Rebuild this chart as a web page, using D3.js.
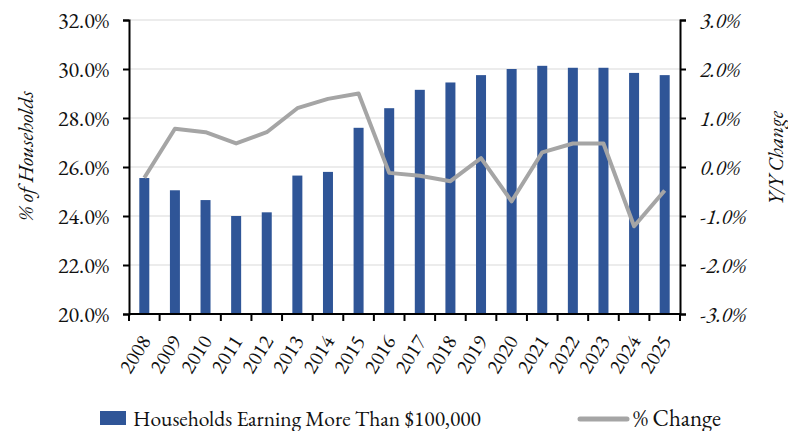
<!DOCTYPE html>
<html lang="en">
<head>
  <meta charset="UTF-8">
  <script src="https://cdn.jsdelivr.net/npm/d3@7"></script>
  <title>Households</title>
  <style>
    body { margin: 0; background: #fff; }
  </style>
</head>
<body>
  <svg></svg>
<script>
const width = 788;
const height = 431;
const margin = { top: 20, right: 108, bottom: 117, left: 129 };
const innerWidth = width - margin.left - margin.right;
const innerHeight = height - margin.top - margin.bottom;
const FONT = '"EB Garamond"';

const years = ['2008', '2009', '2010', '2011', '2012', '2013', '2014', '2015', '2016',
  '2017', '2018', '2019', '2020', '2021', '2022', '2023', '2024', '2025'];
const shareHouseholds = [25.55, 25.05, 24.65, 24.0, 24.15, 25.65, 25.8, 27.6, 28.4,
  29.15, 29.45, 29.75, 30.0, 30.13, 30.05, 30.05, 29.84, 29.75];
const yoyChange = [-0.22, 0.78, 0.71, 0.48, 0.71, 1.2, 1.39, 1.5, -0.12,
  -0.18, -0.29, 0.18, -0.7, 0.3, 0.48, 0.48, -1.21, -0.48];
const leftTicks = [20, 22, 24, 26, 28, 30, 32];
const rightTicks = [-3, -2, -1, 0, 1, 2, 3];

const barColor = '#2F5597';
const lineColor = '#A5A5A5';

const svg = d3.select('svg').attr('width', width).attr('height', height);
const root = svg.append('g').attr('transform', `translate(${margin.left}, ${margin.top})`);

const xScale = d3.scaleBand().domain(years).range([0, innerWidth]);
const yLeft = d3.scaleLinear().domain([20, 32]).range([innerHeight, 0]);
const yRight = d3.scaleLinear().domain([-3, 3]).range([innerHeight, 0]);

// gridlines
root.append('g')
  .selectAll('line')
  .data(leftTicks.slice(1))
  .enter()
  .append('line')
  .attr('x1', 0)
  .attr('x2', innerWidth)
  .attr('y1', d => yLeft(d))
  .attr('y2', d => yLeft(d))
  .attr('stroke', '#d9d9d9')
  .attr('stroke-width', 1.2);

// bars
const barW = 10;
root.append('g')
  .selectAll('rect')
  .data(years)
  .enter()
  .append('rect')
  .attr('x', d => xScale(d) + xScale.bandwidth() / 2 - barW / 2)
  .attr('y', (d, i) => yLeft(shareHouseholds[i]))
  .attr('width', barW)
  .attr('height', (d, i) => innerHeight - yLeft(shareHouseholds[i]))
  .attr('fill', barColor);

// line
const line = d3.line()
  .x((d, i) => xScale(years[i]) + xScale.bandwidth() / 2)
  .y(d => yRight(d));
root.append('path')
  .datum(yoyChange)
  .attr('d', line)
  .attr('fill', 'none')
  .attr('stroke', lineColor)
  .attr('stroke-width', 4)
  .attr('stroke-linejoin', 'round');

// axes
const fmt = d => d.toFixed(1) + '%';
const leftAxis = root.append('g')
  .call(d3.axisLeft(yLeft).tickValues(leftTicks).tickFormat(fmt).tickSize(6).tickPadding(14));
const rightAxis = root.append('g')
  .attr('transform', `translate(${innerWidth}, 0)`)
  .call(d3.axisRight(yRight).tickValues(rightTicks).tickFormat(fmt).tickSize(6).tickPadding(14));

// x axis ticks sit on band boundaries
const xAxis = root.append('g')
  .attr('transform', `translate(0, ${innerHeight})`);
xAxis.append('line')
  .attr('x1', 0).attr('x2', innerWidth)
  .attr('stroke', '#000').attr('stroke-width', 2);
xAxis.selectAll('line.tick')
  .data(years.concat(['end']))
  .enter()
  .append('line')
  .attr('class', 'tick')
  .attr('x1', (d, i) => i * xScale.step())
  .attr('x2', (d, i) => i * xScale.step())
  .attr('y1', 0).attr('y2', 7)
  .attr('stroke', '#000').attr('stroke-width', 2);
xAxis.selectAll('text.year')
  .data(years)
  .enter()
  .append('text')
  .attr('class', 'year')
  .attr('transform', d => `translate(${xScale(d) + xScale.bandwidth() / 2 + 1}, 23) rotate(-58)`)
  .attr('text-anchor', 'end')
  .attr('dy', '0.35em')
  .attr('font-family', FONT)
  .attr('font-size', 21)
  .attr('fill', '#111')
  .text(d => d);

[leftAxis, rightAxis].forEach(a => {
  a.attr('font-family', FONT).attr('font-size', 22);
  a.select('.domain').attr('stroke', '#000').attr('stroke-width', 2);
  a.selectAll('.tick line').attr('stroke', '#000').attr('stroke-width', 2);
  a.selectAll('.tick text').attr('fill', '#111');
});
rightAxis.selectAll('.tick text').attr('font-style', 'italic');

// axis titles
svg.append('text')
  .attr('transform', 'translate(33, 156) rotate(-90)')
  .attr('text-anchor', 'middle')
  .attr('font-family', FONT)
  .attr('font-style', 'italic')
  .attr('font-size', 22)
  .attr('fill', '#111')
  .text('% of Households');
svg.append('text')
  .attr('transform', 'translate(783, 158) rotate(-90)')
  .attr('text-anchor', 'middle')
  .attr('font-family', FONT)
  .attr('font-style', 'italic')
  .attr('font-size', 21)
  .attr('fill', '#111')
  .text('Y/Y Change');

// legend
const legend = svg.append('g')
  .attr('font-family', FONT)
  .attr('font-size', 21.5)
  .attr('fill', '#111');
legend.append('rect')
  .attr('x', 100).attr('y', 411)
  .attr('width', 26).attr('height', 14)
  .attr('fill', barColor);
legend.append('text')
  .attr('x', 133).attr('y', 426)
  .text('Households Earning More Than $100,000');
legend.append('line')
  .attr('x1', 580).attr('x2', 627)
  .attr('y1', 419).attr('y2', 419)
  .attr('stroke', lineColor).attr('stroke-width', 5)
  .attr('stroke-linecap', 'round');
legend.append('text')
  .attr('x', 633).attr('y', 426)
  .attr('font-size', 23)
  .text('% Change');
</script>
</body>
</html>
